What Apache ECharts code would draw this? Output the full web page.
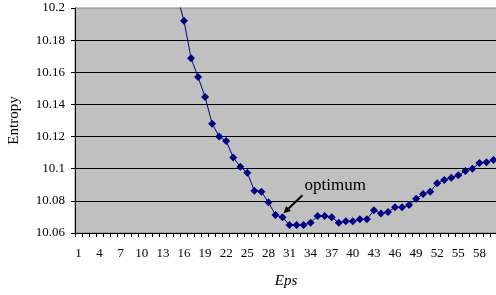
<!DOCTYPE html>
<html>
<head>
    <meta charset="UTF-8">
    <title>Entropy vs Eps</title>
    <script src="https://cdn.jsdelivr.net/npm/echarts@6/dist/echarts.min.js"></script>
</head>
<body style="margin:0">
    <div id="main" style="width: 496px; height: 295px;"></div>
    <script>
        // categories 1..60, values (1..14 are above the axis max)
        var epsLabels = [];
        for (var i = 1; i <= 60; i++) epsLabels.push(String(i));

        var entropy = [
            null, null, null, null, null, null, null, null, null, null,
            null, null, null, null, 10.208, 10.192, 10.1687, 10.157, 10.1446, 10.128,
            10.12, 10.1172, 10.107, 10.1012, 10.0975, 10.0863, 10.0857, 10.0791, 10.0712, 10.0698,
            10.065, 10.065, 10.065, 10.0664, 10.0706, 10.0706, 10.0698, 10.0664, 10.0673, 10.0673,
            10.0685, 10.0685, 10.0741, 10.0722, 10.073, 10.076, 10.076, 10.0774, 10.0813, 10.0843,
            10.0857, 10.0909, 10.093, 10.0944, 10.0959, 10.0986, 10.1, 10.1036, 10.104, 10.1055
        ];
        var optimumIndex = 29;   // eps = 30
        var optimumText = 'optimum';

        var font = 'Liberation Serif';
        var myChart = echarts.init(document.getElementById('main'));
        var option = {
            backgroundColor: '#fff',
            animation: false,
            grid: {
                left: 75,
                top: 8,
                width: 422,
                bottom: 62,
                outerBoundsMode: 'none',
                containLabel: false,
                show: true,
                backgroundColor: '#c0c0c0',
                borderColor: '#808080',
                borderWidth: 1
            },
            xAxis: {
                type: 'category',
                data: epsLabels,
                boundaryGap: true,
                name: 'Eps',
                nameLocation: 'middle',
                nameGap: 41,
                nameTextStyle: {fontFamily: font, fontSize: 15, fontStyle: 'italic', color: '#000'},
                axisLine: {lineStyle: {color: '#000', width: 1}},
                axisTick: {show: true, interval: 0, length: 4, lineStyle: {color: '#000'}},
                axisLabel: {interval: 2, margin: 14, fontFamily: font, fontSize: 13, color: '#000'},
                splitLine: {show: false}
            },
            yAxis: {
                type: 'value',
                min: 10.06,
                max: 10.2,
                interval: 0.02,
                name: 'Entropy',
                nameLocation: 'middle',
                nameGap: 53,
                nameRotate: 90,
                nameTextStyle: {fontFamily: font, fontSize: 15, color: '#000'},
                axisLine: {show: true, lineStyle: {color: '#000', width: 1}},
                axisTick: {show: true, length: 4, lineStyle: {color: '#000'}},
                axisLabel: {margin: 10, fontFamily: font, fontSize: 13, color: '#000'},
                splitLine: {show: true, showMaxLine: false, lineStyle: {color: '#000', width: 1}}
            },
            series: [{
                name: 'Entropy',
                type: 'line',
                data: entropy,
                clip: true,
                symbol: 'diamond',
                symbolSize: 8,
                showAllSymbol: true,
                connectNulls: false,
                lineStyle: {color: '#000080', width: 1},
                itemStyle: {color: '#000080'}
            }]
        };
        myChart.setOption(option);

        // annotation arrow pointing at the optimum point
        var p = myChart.convertToPixel({seriesIndex: 0}, [optimumIndex, entropy[optimumIndex]]);
        var head = [p[0] + 1, p[1] - 4];
        var tail = [p[0] + 20, p[1] - 22];
        var ang = Math.atan2(head[1] - tail[1], head[0] - tail[0]);
        var hl = 7, hw = 3.5;
        var bx = head[0] - hl * Math.cos(ang), by = head[1] - hl * Math.sin(ang);
        myChart.setOption({
            graphic: [{
                type: 'line',
                shape: {x1: tail[0], y1: tail[1], x2: bx, y2: by},
                style: {stroke: '#000', lineWidth: 2}
            }, {
                type: 'polygon',
                shape: {points: [
                    head,
                    [bx + hw * Math.sin(ang), by - hw * Math.cos(ang)],
                    [bx - hw * Math.sin(ang), by + hw * Math.cos(ang)]
                ]},
                style: {fill: '#000'}
            }, {
                type: 'text',
                x: p[0] + 22,
                y: p[1] - 32,
                style: {text: optimumText, fontFamily: font, fontSize: 17, fill: '#000', verticalAlign: 'middle'}
            }]
        });
    </script>
</body>
</html>
